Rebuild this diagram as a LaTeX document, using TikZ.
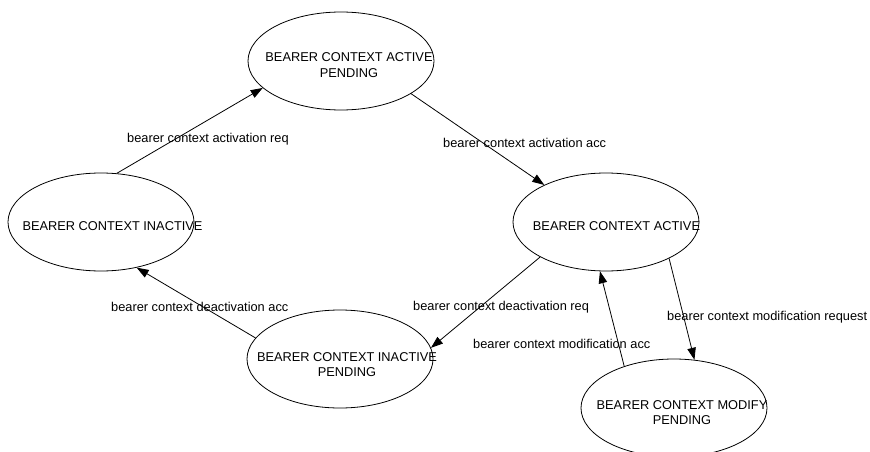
\documentclass[tikz,border=0pt]{standalone}
\usepackage{fontspec}
\setmainfont{Liberation Sans}
\usetikzlibrary{shapes.geometric,arrows.meta}

\tikzset{
  state/.style={ellipse, draw=black, line width=0.8pt, minimum width=186pt,
    minimum height=98pt, inner sep=0pt},
  statetext/.style={inner sep=0pt, align=center,
    font=\fontsize{12.8}{15.5}\selectfont},
  edgelabel/.style={inner sep=0pt, anchor=base west,
    font=\fontsize{12.8}{15.5}\selectfont},
  trans/.style={draw=black, line width=0.8pt,
    -{Triangle[length=12pt,width=8.5pt]}},
}

\begin{document}
\begin{tikzpicture}[x=1pt,y=-1pt]
  \clip (0,0) rectangle (870,452);
  \fill[white] (0,0) rectangle (870,452);

  % states
  \node[state] (actpend)  at (341,61)  {};
  \node[state] (inact)    at (101,222) {};
  \node[state] (act)      at (606,222) {};
  \node[state] (inactpend) at (340,359) {};
  \node[state] (modpend)  at (674,408) {};

  % state names
  \node[statetext] (tactpend)   at (349,65)    {BEARER CONTEXT ACTIVE\\PENDING};
  \node[statetext] (tinact)     at (112.5,226.5) {BEARER CONTEXT INACTIVE};
  \node[statetext] (tact)       at (616.5,226.5) {BEARER CONTEXT ACTIVE};
  \node[statetext] (tinactpend) at (347,364.5) {BEARER CONTEXT INACTIVE\\PENDING};
  \node[statetext] (tmodpend)   at (682,412.5) {BEARER CONTEXT MODIFY\\PENDING};

  % transitions
  \draw[trans] (inact.72)      -- (actpend.199);
  \draw[trans] (actpend.-25)   -- (act.149);
  \draw[trans] (act.208)       -- (inactpend.7);
  \draw[trans] (inactpend.166) -- (inact.-52);
  \draw[trans] (act.-30.5)     -- (modpend.67);
  \draw[trans] (modpend.140.5) -- (act.-97);

  % transition labels
  \node[edgelabel] (l1) at (127,142.7) {bearer context activation req};
  \node[edgelabel] (l2) at (443,147.7) {bearer context activation acc};
  \node[edgelabel] (l3) at (111,311)   {bearer context deactivation acc};
  \node[edgelabel] (l4) at (413,310.7) {bearer context deactivation req};
  \node[edgelabel] (l5) at (473,348.7) {bearer context modification acc};
  \node[edgelabel] (l6) at (667,320)   {bearer context modification request};
\end{tikzpicture}
\end{document}
